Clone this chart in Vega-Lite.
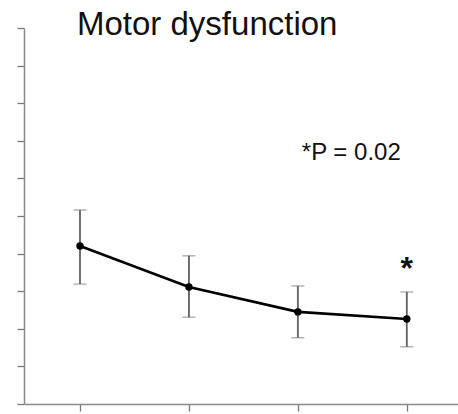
{
  "$schema": "https://vega.github.io/schema/vega-lite/v6.json",
  "autosize": "none",
  "width": 434,
  "height": 376,
  "padding": {"left": 24, "top": 28, "right": 0, "bottom": 10},
  "background": "white",
  "title": {
    "text": "Motor dysfunction",
    "anchor": "start",
    "frame": "group",
    "dx": 53,
    "offset": -41,
    "baseline": "alphabetic",
    "font": "Liberation Sans",
    "fontSize": 33,
    "fontWeight": "normal",
    "color": "#111"
  },
  "config": {
    "view": {"stroke": null},
    "axis": {"grid": false, "labels": false, "domainColor": "#8a8a8a", "domainWidth": 1.5, "tickColor": "#777", "tickWidth": 1.3, "tickSize": 7}
  },
  "datasets": {
    "scores": [
      {"visit": 1, "mean": 4.20, "lo": 3.19, "hi": 5.16},
      {"visit": 2, "mean": 3.11, "lo": 2.31, "hi": 3.94},
      {"visit": 3, "mean": 2.45, "lo": 1.76, "hi": 3.14},
      {"visit": 4, "mean": 2.26, "lo": 1.52, "hi": 2.98}
    ],
    "notes": [
      {"label": "*P = 0.02"}
    ],
    "stars": [
      {"label": "*"}
    ]
  },
  "layer": [
    {
      "data": {"name": "scores"},
      "mark": {"type": "errorbar", "ticks": {"size": 13, "color": "#606060", "strokeWidth": 1.8}, "rule": {"color": "#606060", "strokeWidth": 1.8}},
      "encoding": {
        "x": {"field": "visit", "type": "quantitative", "scale": {"domain": [0.486, 4.47], "nice": false, "zero": false},
          "axis": {"values": [1, 2, 3, 4], "title": null}},
        "y": {"field": "lo", "type": "quantitative", "scale": {"domain": [0, 10], "nice": false},
          "axis": {"values": [0, 1, 2, 3, 4, 5, 6, 7, 8, 9, 10], "title": null}},
        "y2": {"field": "hi"}
      }
    },
    {
      "data": {"name": "scores"},
      "mark": {"type": "line", "color": "#000", "strokeWidth": 2.7},
      "encoding": {
        "x": {"field": "visit", "type": "quantitative", "axis": {"values": [1, 2, 3, 4], "title": null}},
        "y": {"field": "mean", "type": "quantitative", "axis": {"values": [0, 1, 2, 3, 4, 5, 6, 7, 8, 9, 10], "title": null}}
      }
    },
    {
      "data": {"name": "scores"},
      "mark": {"type": "point", "filled": true, "color": "#000", "size": 55, "opacity": 1},
      "encoding": {
        "x": {"field": "visit", "type": "quantitative", "axis": {"values": [1, 2, 3, 4], "title": null}},
        "y": {"field": "mean", "type": "quantitative", "axis": {"values": [0, 1, 2, 3, 4, 5, 6, 7, 8, 9, 10], "title": null}}
      }
    },
    {
      "data": {"name": "notes"},
      "mark": {"type": "text", "align": "left", "baseline": "alphabetic", "font": "Liberation Sans", "fontSize": 24, "color": "#111"},
      "encoding": {
        "x": {"datum": 3.036, "axis": {"values": [1, 2, 3, 4], "title": null}},
        "y": {"datum": 6.49, "axis": {"values": [0, 1, 2, 3, 4, 5, 6, 7, 8, 9, 10], "title": null}},
        "text": {"field": "label", "type": "nominal"}
      }
    },
    {
      "data": {"name": "stars"},
      "mark": {"type": "text", "align": "center", "baseline": "alphabetic", "font": "Liberation Sans", "fontSize": 32, "fontWeight": "bold", "color": "#111"},
      "encoding": {
        "x": {"datum": 4, "axis": {"values": [1, 2, 3, 4], "title": null}},
        "y": {"datum": 3.32, "axis": {"values": [0, 1, 2, 3, 4, 5, 6, 7, 8, 9, 10], "title": null}},
        "text": {"field": "label", "type": "nominal"}
      }
    }
  ]
}
